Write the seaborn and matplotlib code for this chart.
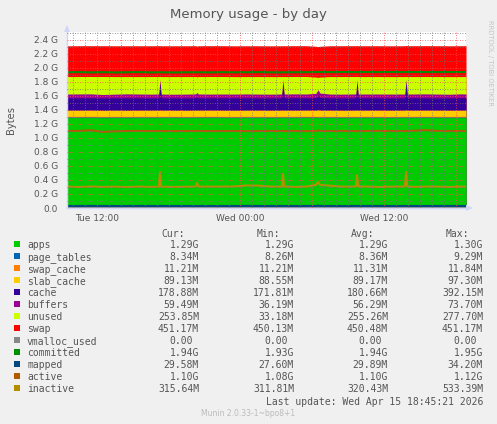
import numpy as np
import matplotlib
matplotlib.use("Agg")
import matplotlib.pyplot as plt
import seaborn as sns
from matplotlib.ticker import MultipleLocator, FuncFormatter
from matplotlib.patches import Rectangle, Polygon

# ---------------- data (hours since Tue 00:00, values in G) ----------------
hours = [9.5, 10.5, 11.5, 12.5, 13.5, 14.5, 15.5, 16.5, 17.17, 17.27, 17.37, 18.5,
         19.5, 20.25, 20.36, 20.47, 21.5, 22.5, 23.5, 24.5, 25.5, 26.5, 27.45, 27.55,
         27.65, 28.5, 29.5, 30.3, 30.48, 30.65, 31.5, 32.5, 33.64, 33.74, 33.84, 34.5,
         35.5, 36.5, 37.74, 37.84, 37.94, 38.5, 39.5, 40.5, 41.5, 42.5, 42.85]

apps = [1.291, 1.291, 1.292, 1.290, 1.291, 1.290, 1.291, 1.291, 1.291, 1.290, 1.291, 1.291,
        1.290, 1.291, 1.291, 1.291, 1.292, 1.291, 1.290, 1.291, 1.291, 1.290, 1.291, 1.290,
        1.291, 1.291, 1.292, 1.291, 1.290, 1.291, 1.291, 1.290, 1.291, 1.290, 1.291, 1.291,
        1.291, 1.290, 1.291, 1.290, 1.291, 1.291, 1.292, 1.291, 1.290, 1.291, 1.291]
page_tables = [0.0082, 0.0082, 0.0081, 0.0082, 0.0082, 0.0083, 0.0082, 0.0082, 0.0082, 0.0090, 0.0082, 0.0081,
               0.0082, 0.0082, 0.0085, 0.0082, 0.0082, 0.0081, 0.0082, 0.0082, 0.0082, 0.0082, 0.0082, 0.0089,
               0.0082, 0.0081, 0.0082, 0.0082, 0.0086, 0.0082, 0.0082, 0.0082, 0.0082, 0.0088, 0.0082, 0.0081,
               0.0082, 0.0082, 0.0082, 0.0090, 0.0082, 0.0082, 0.0081, 0.0082, 0.0082, 0.0082, 0.0082]
swap_cache = [0.0110, 0.0110, 0.0111, 0.0110, 0.0110, 0.0110, 0.0111, 0.0110, 0.0110, 0.0112, 0.0110, 0.0110,
              0.0110, 0.0110, 0.0111, 0.0110, 0.0110, 0.0110, 0.0111, 0.0110, 0.0110, 0.0110, 0.0110, 0.0112,
              0.0110, 0.0110, 0.0111, 0.0110, 0.0113, 0.0110, 0.0110, 0.0110, 0.0110, 0.0112, 0.0110, 0.0110,
              0.0111, 0.0110, 0.0110, 0.0115, 0.0110, 0.0110, 0.0110, 0.0111, 0.0110, 0.0110, 0.0110]
slab_cache = [0.087, 0.087, 0.087, 0.087, 0.087, 0.087, 0.087, 0.087, 0.087, 0.090, 0.087, 0.087,
              0.087, 0.087, 0.088, 0.087, 0.087, 0.087, 0.087, 0.087, 0.087, 0.087, 0.087, 0.089,
              0.087, 0.087, 0.087, 0.087, 0.093, 0.087, 0.087, 0.087, 0.087, 0.090, 0.087, 0.087,
              0.087, 0.087, 0.087, 0.091, 0.087, 0.087, 0.087, 0.087, 0.087, 0.087, 0.087]
cache = [0.178, 0.176, 0.177, 0.175, 0.176, 0.178, 0.176, 0.175, 0.176, 0.383, 0.176, 0.175,
         0.176, 0.177, 0.190, 0.176, 0.175, 0.176, 0.178, 0.176, 0.175, 0.176, 0.176, 0.380,
         0.176, 0.177, 0.175, 0.180, 0.215, 0.182, 0.176, 0.175, 0.176, 0.378, 0.176, 0.177,
         0.176, 0.175, 0.176, 0.382, 0.176, 0.177, 0.176, 0.175, 0.176, 0.177, 0.176]
buffers = [0.053, 0.056, 0.055, 0.050, 0.053, 0.056, 0.055, 0.054, 0.055, 0.055, 0.054, 0.053,
           0.055, 0.055, 0.062, 0.055, 0.054, 0.055, 0.053, 0.056, 0.055, 0.054, 0.055, 0.055,
           0.055, 0.056, 0.055, 0.060, 0.070, 0.062, 0.054, 0.055, 0.056, 0.055, 0.055, 0.054,
           0.055, 0.056, 0.055, 0.055, 0.055, 0.054, 0.056, 0.055, 0.053, 0.056, 0.055]
unused = [0.249, 0.249, 0.248, 0.257, 0.251, 0.247, 0.249, 0.251, 0.250, 0.041, 0.250, 0.252,
          0.250, 0.249, 0.221, 0.249, 0.251, 0.250, 0.249, 0.248, 0.250, 0.250, 0.249, 0.044,
          0.249, 0.248, 0.250, 0.233, 0.178, 0.229, 0.250, 0.251, 0.249, 0.046, 0.249, 0.249,
          0.249, 0.249, 0.249, 0.042, 0.249, 0.249, 0.248, 0.250, 0.251, 0.247, 0.249]
swap = [0.4397, 0.4397, 0.4398, 0.4398, 0.4398, 0.4398, 0.4399, 0.4399, 0.4399, 0.4399, 0.4399, 0.4399,
        0.4399, 0.4400, 0.4400, 0.4400, 0.4400, 0.4400, 0.4400, 0.4400, 0.4400, 0.4400, 0.4400, 0.4400,
        0.4400, 0.4400, 0.4400, 0.4401, 0.4401, 0.4401, 0.4401, 0.4401, 0.4401, 0.4402, 0.4402, 0.4402,
        0.4403, 0.4403, 0.4404, 0.4404, 0.4404, 0.4405, 0.4405, 0.4405, 0.4406, 0.4406, 0.4406]

vmalloc_used = [0.0] * len(hours)
committed = [1.938, 1.941, 1.937, 1.940, 1.936, 1.939, 1.941, 1.937, 1.938, 1.940, 1.938, 1.936,
             1.939, 1.938, 1.940, 1.938, 1.937, 1.940, 1.938, 1.939, 1.941, 1.938, 1.937, 1.940,
             1.938, 1.939, 1.940, 1.941, 1.944, 1.942, 1.941, 1.942, 1.941, 1.943, 1.941, 1.942,
             1.941, 1.942, 1.941, 1.944, 1.941, 1.942, 1.942, 1.941, 1.942, 1.941, 1.942]
mapped = [0.029, 0.029, 0.030, 0.029, 0.029, 0.029, 0.030, 0.029, 0.029, 0.032, 0.029, 0.029,
          0.029, 0.029, 0.030, 0.029, 0.029, 0.029, 0.029, 0.030, 0.029, 0.029, 0.029, 0.031,
          0.029, 0.029, 0.029, 0.029, 0.033, 0.030, 0.029, 0.029, 0.029, 0.031, 0.029, 0.029,
          0.030, 0.029, 0.029, 0.032, 0.029, 0.029, 0.029, 0.029, 0.030, 0.029, 0.029]
active = [1.100, 1.101, 1.110, 1.087, 1.096, 1.100, 1.101, 1.100, 1.100, 1.102, 1.100, 1.099,
          1.100, 1.100, 1.103, 1.100, 1.099, 1.100, 1.100, 1.099, 1.100, 1.101, 1.100, 1.101,
          1.100, 1.100, 1.099, 1.100, 1.106, 1.101, 1.100, 1.100, 1.099, 1.100, 1.100, 1.100,
          1.101, 1.100, 1.100, 1.102, 1.100, 1.104, 1.112, 1.101, 1.100, 1.100, 1.100]
inactive = [0.305, 0.300, 0.307, 0.301, 0.305, 0.300, 0.306, 0.301, 0.305, 0.512, 0.305, 0.301,
            0.304, 0.306, 0.360, 0.306, 0.305, 0.306, 0.308, 0.322, 0.320, 0.306, 0.305, 0.492,
            0.305, 0.301, 0.305, 0.330, 0.372, 0.330, 0.318, 0.305, 0.306, 0.470, 0.305, 0.306,
            0.300, 0.305, 0.306, 0.515, 0.306, 0.301, 0.306, 0.305, 0.300, 0.306, 0.305]

x_tick_labels = {12: "Tue 12:00", 24: "Wed 00:00", 36: "Wed 12:00"}

leg_names = ["apps", "page_tables", "swap_cache", "slab_cache", "cache", "buffers", "unused",
             "swap", "vmalloc_used", "committed", "mapped", "active", "inactive"]
leg_colors = ["#00CC00", "#0066B3", "#FF8000", "#FFCC00", "#330099", "#990099", "#CCFF00",
              "#FF0000", "#888888", "#008F00", "#00487D", "#B35A00", "#B38F00"]
cur_vals = ["1.29G", "8.34M", "11.21M", "89.13M", "178.88M", "59.49M", "253.85M", "451.17M",
            "0.00", "1.94G", "29.58M", "1.10G", "315.64M"]
min_vals = ["1.29G", "8.26M", "11.21M", "88.55M", "171.81M", "36.19M", "33.18M", "450.13M",
            "0.00", "1.93G", "27.60M", "1.08G", "311.81M"]
avg_vals = ["1.29G", "8.36M", "11.31M", "89.17M", "180.66M", "56.29M", "255.26M", "450.48M",
            "0.00", "1.94G", "29.89M", "1.10G", "320.43M"]
max_vals = ["1.30G", "9.29M", "11.84M", "97.30M", "392.15M", "73.70M", "277.70M", "451.17M",
            "0.00", "1.95G", "34.20M", "1.12G", "533.39M"]
col_headers = ["Cur:", "Min:", "Avg:", "Max:"]

# ---------------- drawing ----------------
W, H = 497, 424
sns.set_style("white")
plt.rcParams['font.family'] = ['DejaVu Sans']
FONT = "#555555"

fig = plt.figure(figsize=(W / 100, H / 100), dpi=100, facecolor="#F0F0F0")
ax = fig.add_axes([67 / W, 1 - 208 / H, 399 / W, 176 / H])
ax.set_facecolor("white")

stack_series = [apps, page_tables, swap_cache, slab_cache, cache, buffers, unused, swap]
stack_colors = leg_colors[:8]
tops = np.cumsum(np.array(stack_series, dtype=float), axis=0)
# draw from the top layer down so no seams appear between layers
for i in range(len(stack_series) - 1, -1, -1):
    ax.fill_between(hours, 0, tops[i], color=stack_colors[i], linewidth=0, zorder=1)

line_series = [vmalloc_used, committed, mapped, active, inactive]
line_colors = leg_colors[8:]
for vals, col in zip(line_series, line_colors):
    sns.lineplot(x=hours, y=vals, color=col, linewidth=1.5, ax=ax, zorder=2, sort=True)

ax.set_xlim(9.5, 42.85)
ax.set_ylim(0, 2.514)
ax.set_xlabel("")
ax.set_ylabel("")

ax.xaxis.set_major_locator(MultipleLocator(6))
ax.xaxis.set_minor_locator(MultipleLocator(1))
ax.xaxis.set_major_formatter(FuncFormatter(lambda v, p: x_tick_labels.get(int(round(v)), "")))
ax.yaxis.set_major_locator(MultipleLocator(0.2))
ax.yaxis.set_minor_locator(MultipleLocator(0.1))
ax.yaxis.set_major_formatter(FuncFormatter(lambda v, p: "0.0" if abs(v) < 1e-9 else f"{v:.1f} G"))

ax.set_axisbelow(False)
ax.grid(True, which="major", color=(1.0, 0.3, 0.3, 0.28), linestyle=(0, (1, 2)), linewidth=0.6)
ax.grid(True, which="minor", color=(0.45, 0.45, 0.45, 0.28), linestyle=(0, (1, 2)), linewidth=0.6)

ax.tick_params(axis="both", which="both", direction="out", length=2, width=0.7,
               labelsize=6.5, labelcolor=FONT)
ax.tick_params(axis="x", which="major", color="#FFAAAA", pad=2)
ax.tick_params(axis="x", which="minor", color="#CCCCCC")
ax.tick_params(axis="y", which="both", color="#CCCCCC", pad=4.5)

for s in ["top", "right"]:
    ax.spines[s].set_visible(False)
for s in ["left", "bottom"]:
    ax.spines[s].set_color("#CFD6F8")
    ax.spines[s].set_linewidth(1.0)

# arrows on axes (munin style)
fig.add_artist(Polygon([[64 / W, 1 - 32 / H], [70 / W, 1 - 32 / H], [67 / W, 1 - 25 / H]],
                       closed=True, transform=fig.transFigure, facecolor="#CFD6F8", edgecolor="none"))
fig.add_artist(Polygon([[466 / W, 1 - 205 / H], [466 / W, 1 - 211 / H], [473 / W, 1 - 208 / H]],
                       closed=True, transform=fig.transFigure, facecolor="#CFD6F8", edgecolor="none"))

# titles and side texts
fig.text(248 / W, 1 - 18.3 / H, "Memory usage - by day", ha="center", va="baseline",
         fontsize=9.5, color=FONT)
fig.text(11 / W, 1 - 120 / H, "Bytes", rotation=90, ha="center", va="center",
         fontsize=7.2, color=FONT)
fig.text(490 / W, 1 - 63 / H, "RRDTOOL / TOBI OETIKER", rotation=270, ha="center", va="center",
         fontsize=4.9, color="#C4C4C4")

# legend table
mono = "DejaVu Sans Mono"
char_w = 5.85
col_right = [199, 294, 388, 483]
head_right = [185, 280, 374, 469]
for hx, htxt in zip(head_right, col_headers):
    fig.text(hx / W, 1 - 237 / H, htxt, ha="right", va="baseline", family=mono, fontsize=7, color=FONT)

columns = [cur_vals, min_vals, avg_vals, max_vals]
for i, name in enumerate(leg_names):
    yb = 248 + 12 * i
    fig.add_artist(Rectangle((14 / W, 1 - (yb - 1.5) / H), 6 / W, 6 / H, transform=fig.transFigure,
                             facecolor=leg_colors[i], edgecolor="none"))
    fig.text(27 / W, 1 - yb / H, name, ha="left", va="baseline", family=mono, fontsize=7, color=FONT)
    for cx, col in zip(col_right, columns):
        txt = col[i]
        xr = cx if txt[-1] in "GMk" else cx - char_w
        fig.text(xr / W, 1 - yb / H, txt, ha="right", va="baseline", family=mono, fontsize=7, color=FONT)

fig.text(483 / W, 1 - 405 / H, "Last update: Wed Apr 15 18:45:21 2026", ha="right", va="baseline",
         family=mono, fontsize=7, color=FONT)
fig.text(248 / W, 1 - 416 / H, "Munin 2.0.33-1~bpo8+1", ha="center", va="baseline",
         fontsize=5.5, color="#BBBBBB")

fig.savefig("out.png", dpi=100, facecolor=fig.get_facecolor())
